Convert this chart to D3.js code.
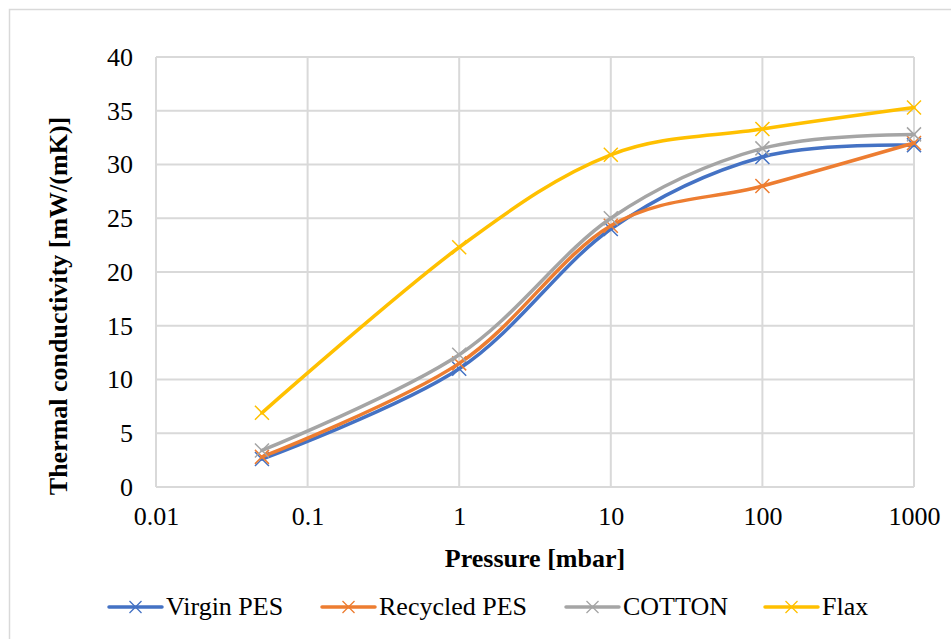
<!DOCTYPE html>
<html>
<head>
<meta charset="utf-8">
<script src="https://cdn.jsdelivr.net/npm/d3@7"></script>
<style>
  body { margin: 0; background: #fff; }
  svg text { font-family: "Liberation Serif", "Times New Roman", Times, "DejaVu Serif", serif; }
</style>
</head>
<body>
<div id="chart"></div>
<script>

// data
var pressures = [0.05, 1, 10, 100, 1000];
var virginPES = [2.6, 11.0, 24.0, 30.7, 31.8];
var recycledPES = [2.8, 11.5, 24.3, 28.0, 32.0];
var cotton = [3.4, 12.3, 25.0, 31.5, 32.8];
var flax = [6.9, 22.3, 30.9, 33.3, 35.3];
var seriesNames = ["Virgin PES", "Recycled PES", "COTTON", "Flax"];
var seriesColors = ["#4472C4", "#ED7D31", "#A5A5A5", "#FFC000"];
var xTicks = [0.01, 0.1, 1, 10, 100, 1000];
var yTicks = [0, 5, 10, 15, 20, 25, 30, 35, 40];

var allSeries = [virginPES, recycledPES, cotton, flax];

var serif = '"Liberation Serif", "Times New Roman", Times, "DejaVu Serif", serif';
var font_size = 26;
var svg_width = 951;
var svg_height = 639;
var plot_left = 156, plot_right = 914;
var plot_top = 57, plot_bottom = 487;

var xScale = d3.scaleLog()
               .domain([0.01, 1000])
               .range([plot_left, plot_right]);

var yScale = d3.scaleLinear()
               .domain([0, 40])
               .range([plot_bottom, plot_top]);

var svg = d3.select('#chart')
            .append('svg')
            .attr('width', svg_width)
            .attr('height', svg_height)
            .attr('font-family', serif);

// outer chart frame
svg.append('rect')
   .attr('x', 9.5).attr('y', 9.5)
   .attr('width', 960).attr('height', 660)
   .attr('fill', '#fff')
   .attr('stroke', '#d9d9d9')
   .attr('stroke-width', 1.5);

// gridlines
svg.append('g')
   .selectAll('line')
   .data(yTicks)
   .enter()
     .append('line')
     .attr('x1', plot_left).attr('x2', plot_right)
     .attr('y1', function(d) {return yScale(d)})
     .attr('y2', function(d) {return yScale(d)})
     .attr('stroke', '#d9d9d9')
     .attr('stroke-width', 2);

svg.append('g')
   .selectAll('line')
   .data(xTicks)
   .enter()
     .append('line')
     .attr('x1', function(d) {return xScale(d)})
     .attr('x2', function(d) {return xScale(d)})
     .attr('y1', plot_top).attr('y2', plot_bottom)
     .attr('stroke', '#d9d9d9')
     .attr('stroke-width', 2);

// axes (labels only, lines hidden)
var yAxis = d3.axisLeft(yScale)
              .tickValues(yTicks)
              .tickSize(0)
              .tickPadding(23)
              .tickFormat(d3.format('d'));

var yAxisG = svg.append('g')
   .attr('transform', 'translate(' + plot_left + ', 0)')
   .call(yAxis)
   .attr('font-family', serif)
   .attr('font-size', font_size);
yAxisG.select('.domain').remove();
yAxisG.selectAll('text').attr('fill', '#000');

var xAxis = d3.axisBottom(xScale)
              .tickValues(xTicks)
              .tickSize(0)
              .tickPadding(20)
              .tickFormat(function(d) {return String(d)});

var xAxisG = svg.append('g')
   .attr('transform', 'translate(0, ' + plot_bottom + ')')
   .call(xAxis)
   .attr('font-family', serif)
   .attr('font-size', font_size);
xAxisG.select('.domain').remove();
xAxisG.selectAll('text').attr('fill', '#000');

// bottom axis line
svg.append('line')
   .attr('x1', plot_left).attr('x2', plot_right)
   .attr('y1', plot_bottom).attr('y2', plot_bottom)
   .attr('stroke', '#d9d9d9')
   .attr('stroke-width', 2);

// axis titles
svg.append('text')
   .attr('x', 535)
   .attr('y', 567)
   .attr('text-anchor', 'middle')
   .attr('font-size', font_size)
   .attr('font-weight', 'bold')
   .text('Pressure [mbar]');

svg.append('text')
   .attr('transform', 'translate(67, 306) rotate(-90)')
   .attr('text-anchor', 'middle')
   .attr('font-size', font_size)
   .attr('font-weight', 'bold')
   .text('Thermal conductivity [mW/(mK)]');

// series lines
var line = d3.line()
             .x(function(d) {return xScale(d.x)})
             .y(function(d) {return yScale(d.y)})
             .curve(d3.curveCatmullRom.alpha(0));

var marker = 7;

allSeries.forEach(function(values, i) {
  var pts = values.map(function(v, j) {return {x: pressures[j], y: v}});
  var g = svg.append('g');
  g.append('path')
   .datum(pts)
   .attr('d', line)
   .attr('fill', 'none')
   .attr('stroke', seriesColors[i])
   .attr('stroke-width', 3.5)
   .attr('stroke-linecap', 'round');
  g.selectAll('path.m')
   .data(pts)
   .enter()
     .append('path')
     .attr('class', 'm')
     .attr('d', function(d) {
       var cx = xScale(d.x), cy = yScale(d.y);
       return 'M' + (cx - marker) + ',' + (cy - marker) + 'L' + (cx + marker) + ',' + (cy + marker) +
              'M' + (cx - marker) + ',' + (cy + marker) + 'L' + (cx + marker) + ',' + (cy - marker);
     })
     .attr('stroke', seriesColors[i])
     .attr('stroke-width', 1.5)
     .attr('fill', 'none');
});

// legend
var legendX = [109, 322, 566, 765];
var legend_line = 53;
var legend = svg.append('g');
seriesNames.forEach(function(name, i) {
  var lx = legendX[i], ly = 607;
  legend.append('line')
    .attr('x1', lx).attr('x2', lx + legend_line)
    .attr('y1', ly).attr('y2', ly)
    .attr('stroke', seriesColors[i])
    .attr('stroke-width', 3.5)
    .attr('stroke-linecap', 'round');
  var cx = lx + legend_line / 2, m = 6;
  legend.append('path')
    .attr('d', 'M' + (cx - m) + ',' + (ly - m) + 'L' + (cx + m) + ',' + (ly + m) +
               'M' + (cx - m) + ',' + (ly + m) + 'L' + (cx + m) + ',' + (ly - m))
    .attr('stroke', seriesColors[i])
    .attr('stroke-width', 1.3);
  legend.append('text')
    .attr('x', lx + legend_line + 4)
    .attr('y', 615)
    .attr('font-size', font_size)
    .text(name);
});

</script>
</body>
</html>
